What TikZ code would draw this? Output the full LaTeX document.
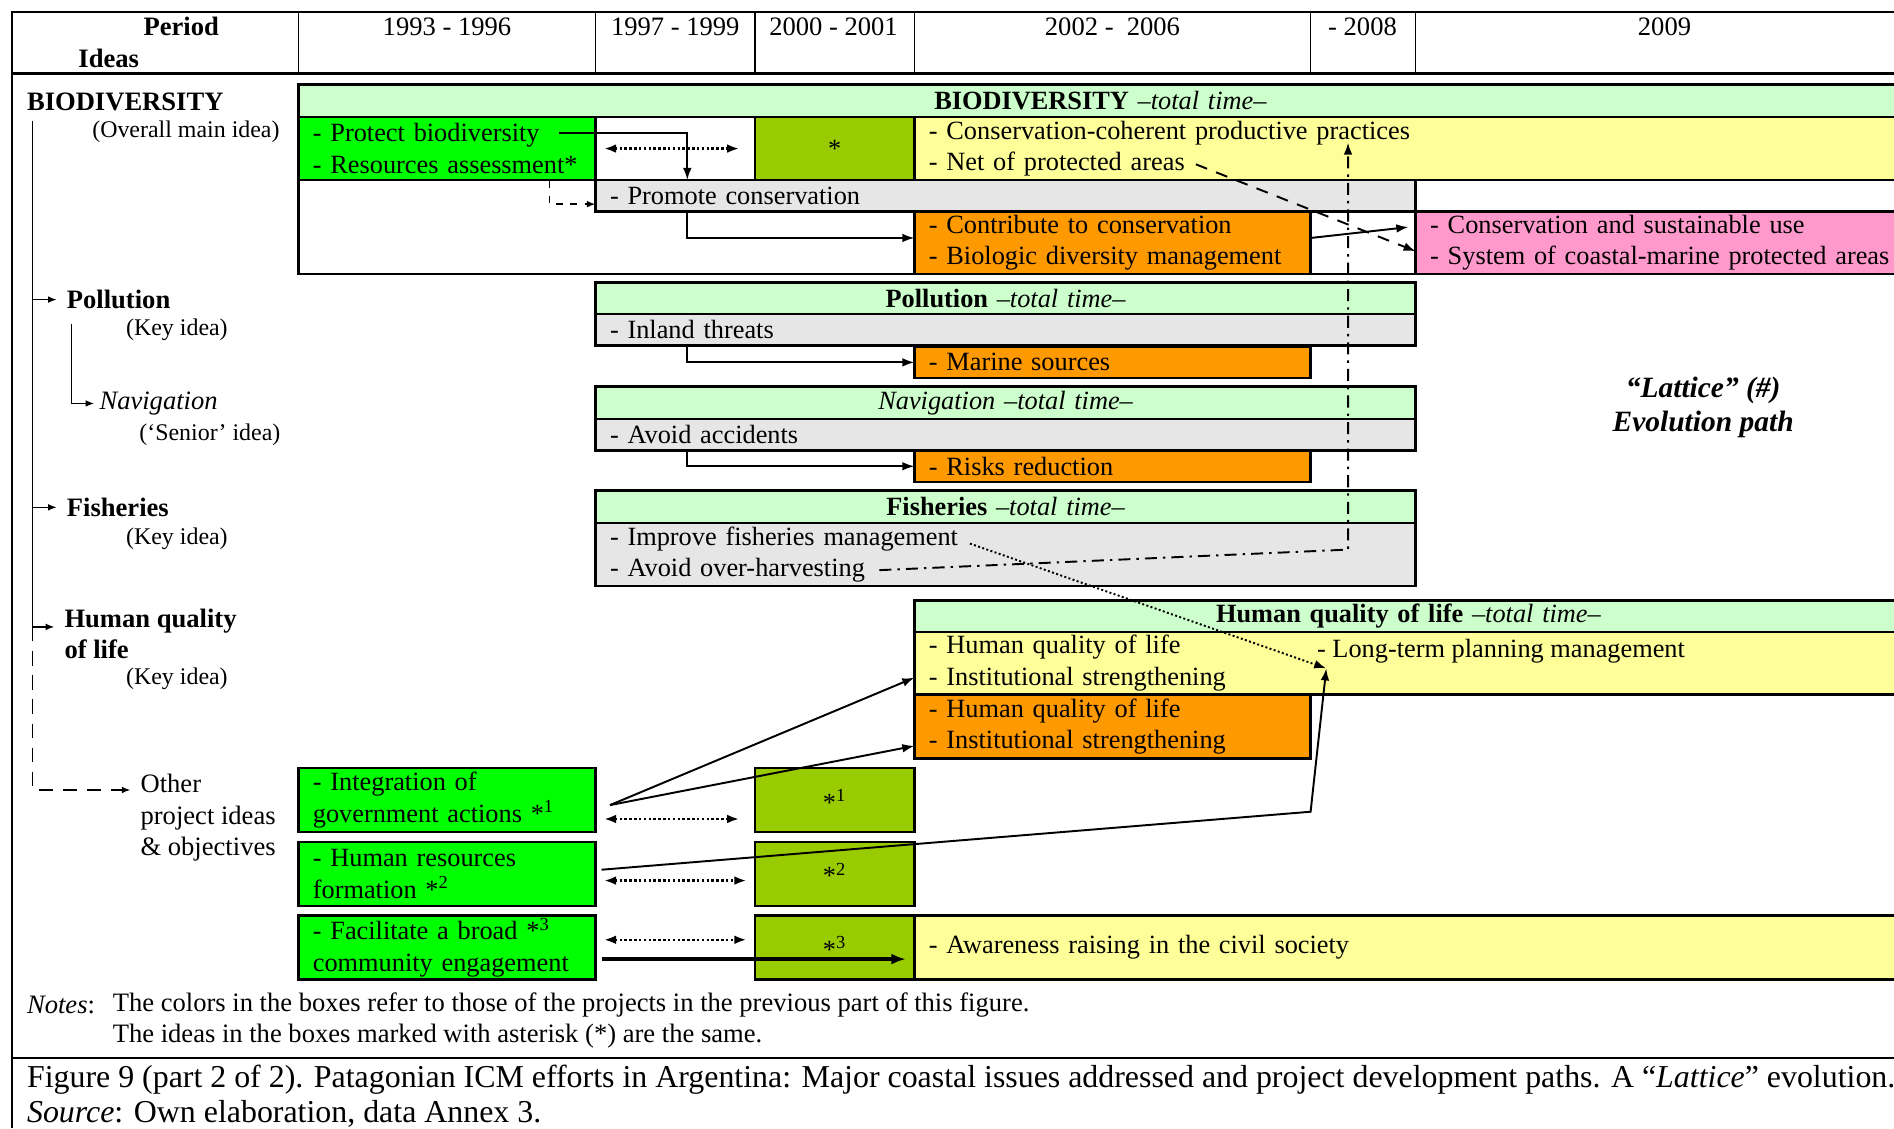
\documentclass[tikz,border=0pt]{standalone}
\usepackage{fontspec}
\setmainfont{Liberation Serif}
\usetikzlibrary{positioning, calc, arrows.meta}

\definecolor{lgreen}{HTML}{CCFFCC}
\definecolor{bgreen}{HTML}{00FF00}
\definecolor{ogreen}{HTML}{99CC00}
\definecolor{lyellow}{HTML}{FFFF99}
\definecolor{orng}{HTML}{FF9900}
\definecolor{pnk}{HTML}{FF99CC}
\definecolor{lgray}{HTML}{E6E6E6}

\newcommand{\cellfont}{\fontsize{10.9}{13}\selectfont}
\newcommand{\lblfont}{\fontsize{11}{13}\selectfont}
\newcommand{\keyfont}{\fontsize{9.9}{13}\selectfont}
\newcommand{\capfont}{\fontsize{13.2}{14}\selectfont}

\tikzset{
  cell/.style={draw, line width=1pt, anchor=north west, inner xsep=6pt, inner ysep=0pt, outer sep=0pt, align=left, font=\cellfont},
  strip/.style={cell, fill=lgreen, align=center},
  lbl/.style={anchor=west, inner sep=0pt, font=\lblfont},
  key/.style={anchor=west, inner sep=0pt, font=\keyfont},
  hdr/.style={inner sep=0pt, font=\lblfont},
  link/.style={-{Latex[length=5pt, width=3.6pt]}, line width=0.8pt},
  twin/.style={{Latex[length=5pt, width=3.6pt]}-{Latex[length=5pt, width=3.6pt]}, densely dotted, line width=1pt},
  tree/.style={-{Latex[length=3.6pt, width=2.8pt]}, line width=0.6pt},
}

\begin{document}
\begin{tikzpicture}[x=0.5pt, y=-0.5pt]
\useasboundingbox (0,0) rectangle (1568,934);

% frame and period header
\draw[line width=1pt] (10,934) -- (10,10) -- (1575,10);
\draw[line width=1.2pt] (10,61) -- (1575,61);
\foreach \x in {247,493,625,757,1085,1172} \draw[line width=0.6pt] (\x,10) -- (\x,61);
\draw[line width=1pt] (10,876) -- (1575,876);

\node[hdr] (hPer) at (150,22) {\textbf{Period}};
\node[hdr] (hIde) at (90,48) {\textbf{Ideas}};
\node[hdr] (y1) at (370,22) {1993 - 1996};
\node[hdr] (y2) at (559,22) {1997 - 1999};
\node[hdr] (y3) at (690,22) {2000 - 2001};
\node[hdr] (y4) at (921,22) {2002 -\ \ 2006};
\node[hdr] (y5) at (1128,22) {- 2008};
\node[hdr] (y6) at (1378,22) {2009};

% biodiversity
\draw[line width=1pt] (247,70) rectangle (1575,227);
\node[strip, text width=652pt, minimum height=13.5pt] (bioT) at (247,70) {\textbf{BIODIVERSITY} \textit{--total time--}};
\node[cell, fill=bgreen, text width=111pt, minimum height=26pt] (bioG) at (247,97) {- Protect biodiversity\\- Resources assessment*};
\node[cell, fill=white, text width=54pt, minimum height=26pt] (bioW) at (493,97) {};
\node[cell, fill=ogreen, text width=54pt, minimum height=26pt, align=center] (bioO) at (625,97) {*};
\node[cell, fill=lyellow, text width=397pt, minimum height=26pt] (bioY) at (757,97) {- Conservation-coherent productive practices\\- Net of protected areas};
\node[cell, fill=lgray, text width=327.5pt, minimum height=13pt] (bioP) at (493,149) {- Promote conservation};
\node[cell, fill=orng, text width=152pt, minimum height=26pt] (bioC) at (757,175) {- Contribute to conservation\\- Biologic diversity management};
\node[cell, fill=pnk, text width=202pt, minimum height=26pt] (bioS) at (1172,175) {- Conservation and sustainable use\\- System of coastal-marine protected areas};

% pollution, navigation, fisheries
\node[strip, text width=327.5pt, minimum height=13pt] (polT) at (493,234) {\textbf{Pollution} \textit{--total time--}};
\node[cell, fill=lgray, text width=327.5pt, minimum height=13pt] (polG) at (493,260) {- Inland threats};
\node[cell, fill=orng, text width=152pt, minimum height=13pt] (polO) at (757,287) {- Marine sources};

\node[strip, text width=327.5pt, minimum height=13.5pt] (navT) at (493,320) {\textit{Navigation --total time--}};
\node[cell, fill=lgray, text width=327.5pt, minimum height=13pt] (navG) at (493,347) {- Avoid accidents};
\node[cell, fill=orng, text width=152pt, minimum height=13pt] (navO) at (757,373) {- Risks reduction};

\node[strip, text width=327.5pt, minimum height=13.5pt] (fisT) at (493,406) {\textbf{Fisheries} \textit{--total time--}};
\node[cell, fill=lgray, text width=327.5pt, minimum height=26pt] (fisG) at (493,433) {- Improve fisheries management\\- Avoid over-harvesting};

% human quality of life
\node[strip, text width=397pt, minimum height=13pt] (hqlT) at (757,497) {\textbf{Human quality of life} \textit{--total time--}};
\node[cell, fill=lyellow, text width=397pt, minimum height=26pt] (hqlY) at (757,523) {- Human quality of life\\- Institutional strengthening};
\node[cell, fill=orng, text width=152pt, minimum height=26.5pt] (hqlO) at (757,575) {- Human quality of life\\- Institutional strengthening};
\node[lbl, font=\cellfont, inner sep=1pt] (hqlL) at (1088,539) {- Long-term planning management};
%\node[lbl, font=\cellfont] (hqlL) [right=40pt of hqlY.north west] {- Long-term planning management};

% other project ideas
\node[cell, fill=bgreen, text width=111pt, minimum height=26.5pt] (oth1) at (247,636) {- Integration of\\government actions *\textsuperscript{1}};
\node[cell, fill=bgreen, text width=111pt, minimum height=26.5pt] (oth2) at (247,697) {- Human resources\\formation *\textsuperscript{2}};
\node[cell, fill=bgreen, text width=111pt, minimum height=26.5pt] (oth3) at (247,758) {- Facilitate a broad *\textsuperscript{3}\\community engagement};
\node[cell, fill=ogreen, text width=54pt, minimum height=26.5pt, align=center] (ast1) [right=66pt of oth1] {*\textsuperscript{1}};
\node[cell, fill=ogreen, text width=54pt, minimum height=26.5pt, align=center] (ast2) [right=66pt of oth2] {*\textsuperscript{2}};
\node[cell, fill=ogreen, text width=54pt, minimum height=26.5pt, align=center] (ast3) [right=66pt of oth3] {*\textsuperscript{3}};
\node[cell, fill=lyellow, text width=397pt, minimum height=26.5pt] (awr) [right=0pt of ast3] {- Awareness raising in the civil society};

% ideas column
\node[lbl] (bioL) at (22,84) {\textbf{BIODIVERSITY}};
\node[key] (bioK) at (76,109) {(Overall main idea)};
\node[lbl] (polL) at (55,248) {\textbf{Pollution}};
\node[key] (polK) at (104,273) {(Key idea)};
\node[lbl] (navL) at (82,334) {\textit{Navigation}};
\node[key] (navK) at (115,360) {(‘Senior’ idea)};
\node[lbl] (fisL) at (55,420) {\textbf{Fisheries}};
\node[key] (fisK) at (104,446) {(Key idea)};
\node[lbl, align=left] (humL) at (53,525) {\textbf{Human quality}\\\textbf{of life}};
\node[key] (humK) at (104,562) {(Key idea)};
\node[lbl, align=left] (othL) at (116,677) {Other\\project ideas\\\& objectives};

\node[hdr, font=\fontsize{12.2}{14}\selectfont\bfseries\itshape, align=center] (lat) at (1410,337) {“Lattice” (\#)\\Evolution path};

\coordinate (t0) at (27,100);
\coordinate (t1) at (59,268);
\coordinate (t2) at (27,519);
\draw[tree] (t0) |- ([xshift=-4pt]polL.west);
\draw[tree] (t0) |- ([xshift=-4pt]fisL.west);
\draw[tree] (t0) |- ([xshift=-4pt,yshift=3pt]humL.west);
\draw[tree] (t1) |- ([xshift=-2pt]navL.west);
\draw[tree, dash pattern=on 6pt off 4pt] (t2) |- ([xshift=-4pt,yshift=11.5pt]othL.west);

% evolution paths
\coordinate (q0) at (455,150);
\coordinate (q1) at (463,110);
\coordinate (q2) at (990,136);
\coordinate (q3) at (728,472);
\coordinate (q4) at (1116,455);
\coordinate (q5) at (1116,118);
\coordinate (q6) at (803,450);
\coordinate (q7) at (1085,672);

\draw[link] (q1) -| ([xshift=38pt]bioP.north west);
\draw[twin] ([xshift=3.5pt]bioW.west) -- ([xshift=-6.5pt]bioW.east);
\draw[tree, dashed] (q0) |- ([yshift=-3.5pt]bioP.west);
\draw[link] ([xshift=38pt]bioP.south west) |- ([yshift=2pt]bioC.west);
\draw[link] ([yshift=2pt]bioC.east) -- ([xshift=-3pt,yshift=6.5pt]bioS.west);
\draw[link, dash pattern=on 5pt off 4pt] (q2) -- ([yshift=-3.5pt]bioS.west);
\draw[link, dash pattern=on 5pt off 2.5pt on 1pt off 2.5pt] (q3) -- (q4) -- (q5);

\draw[link] ([xshift=38pt]polG.south west) |- (polO.west);
\draw[link] ([xshift=38pt]navG.south west) |- (navO.west);
\draw[link, densely dotted] (q6) -- ([xshift=5pt,yshift=-1pt]hqlL.south west);

\draw[link] ([xshift=6pt,yshift=-2pt]oth1.east) -- ([yshift=-6pt]hqlY.west);
\draw[link] ([xshift=6pt,yshift=-2pt]oth1.east) -- ([yshift=-8pt]hqlO.west);
\draw[link] ([xshift=2.5pt,yshift=1.75pt]oth2.east) -- (q7) -- ([xshift=5pt,yshift=-1pt]hqlL.south west);
\draw[-{Latex[length=6pt, width=4.5pt]}, line width=1.5pt] ([xshift=2.5pt,yshift=-4.75pt]oth3.east) -- ([xshift=-3.5pt,yshift=-4.75pt]awr.west);
\draw[twin] ([xshift=3.5pt,yshift=-7.75pt]oth1.east) -- ([xshift=-6.5pt,yshift=-7.75pt]ast1.west);
\draw[twin] ([xshift=3.5pt,yshift=-2.75pt]oth2.east) -- ([xshift=-3.5pt,yshift=-2.75pt]ast2.west);
\draw[twin] ([xshift=3.5pt,yshift=3.25pt]oth3.east) -- ([xshift=-3.5pt,yshift=3.25pt]ast3.west);

% notes and caption
\node[lbl] (notA) at (22,832) {\textit{Notes}:};
\node[lbl] (notB) at (93,832) {The colors in the boxes refer to those of the projects in the previous part of this figure.};
\node[lbl] (notC) at (93,858) {The ideas in the boxes marked with asterisk (*) are the same.};
\node[lbl, font=\capfont] (capA) at (22,894) {Figure 9 (part 2 of 2). Patagonian ICM efforts in Argentina: Major coastal issues addressed and project development paths. A “\textit{Lattice}” evolution.};
\node[lbl, font=\capfont] (capB) at (22,922) {\textit{Source}: Own elaboration, data Annex 3.};
\end{tikzpicture}
\end{document}
